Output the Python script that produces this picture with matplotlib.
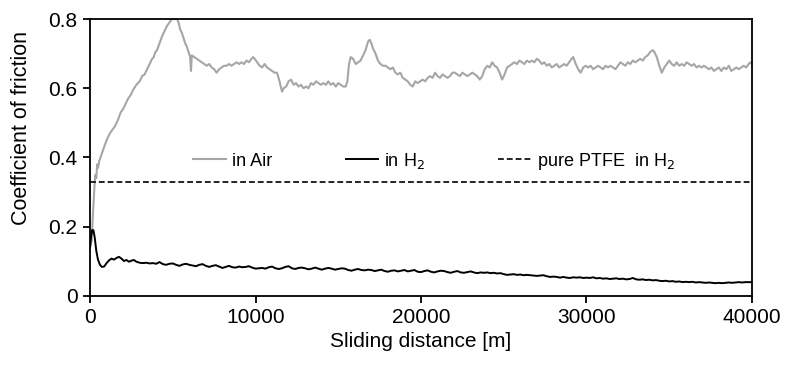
import numpy as np
import matplotlib.pyplot as plt

plt.rcParams['font.family'] = ['Liberation Sans', 'DejaVu Sans']

# coefficient of friction in air
air_x = [0, 100, 180, 260, 320, 380, 430, 480, 560, 700, 850, 1000, 1200, 1350, 1500, 1700, 1850,
         2000, 2150, 2300, 2450, 2600, 2800, 3000, 3150, 3300, 3450, 3600, 3750, 3850, 3950, 4050,
         4200, 4350, 4500, 4650, 4800, 4950, 5100, 5250, 5350, 5450, 5550, 5650, 5750, 5850, 5950,
         6050, 6100, 6150, 6300, 6450, 6600, 6750, 6900, 7050, 7200, 7350, 7500, 7650, 7800, 7950,
         8100, 8250, 8400, 8550, 8700, 8850, 9000, 9150, 9300, 9450, 9600, 9750, 9850, 9950, 10100,
         10250, 10400, 10550, 10700, 10850, 11000, 11150, 11300, 11450, 11600, 11700, 11850, 12000,
         12150, 12300, 12450, 12600, 12750, 12900, 13050, 13200, 13350, 13500, 13650, 13800, 13950,
         14100, 14250, 14400, 14550, 14700, 14850, 15000, 15150, 15300, 15450, 15550, 15650, 15750,
         15900, 16050, 16200, 16350, 16500, 16650, 16800, 16900, 17000, 17100, 17250, 17400, 17550,
         17700, 17850, 18000, 18150, 18300, 18450, 18600, 18750, 18900, 19050, 19200, 19350, 19500,
         19650, 19800, 19950, 20100, 20250, 20400, 20550, 20700, 20850, 21000, 21150, 21300, 21450,
         21600, 21750, 21900, 22050, 22200, 22350, 22500, 22650, 22800, 22950, 23100, 23250, 23400,
         23550, 23700, 23850, 24000, 24150, 24300, 24450, 24600, 24750, 24900, 25050, 25200, 25350,
         25500, 25650, 25800, 25950, 26100, 26250, 26400, 26550, 26700, 26850, 27000, 27150, 27300,
         27450, 27600, 27750, 27900, 28050, 28200, 28350, 28500, 28650, 28800, 28950, 29100, 29200,
         29350, 29500, 29650, 29800, 29950, 30100, 30250, 30400, 30550, 30700, 30850, 31000, 31150,
         31300, 31450, 31600, 31750, 31900, 32050, 32200, 32350, 32500, 32650, 32800, 32950, 33100,
         33250, 33400, 33550, 33700, 33850, 34000, 34100, 34250, 34400, 34550, 34700, 34850, 35000,
         35150, 35300, 35450, 35600, 35750, 35900, 36050, 36200, 36350, 36500, 36650, 36800, 36950,
         37100, 37250, 37400, 37550, 37700, 37850, 38000, 38150, 38300, 38450, 38600, 38750, 38900,
         39050, 39200, 39350, 39500, 39650, 39800, 39900, 40000]
air_y = [0.14, 0.16, 0.24, 0.31, 0.35, 0.34, 0.38, 0.37, 0.39, 0.41, 0.43, 0.45, 0.47, 0.48, 0.49, 0.51, 0.53,
         0.54, 0.555, 0.57, 0.58, 0.595, 0.61, 0.62, 0.635, 0.64, 0.655, 0.67, 0.685, 0.69, 0.705, 0.71,
         0.73, 0.75, 0.765, 0.78, 0.79, 0.80, 0.80, 0.80, 0.79, 0.77, 0.76, 0.745, 0.73, 0.72, 0.705,
         0.69, 0.65, 0.695, 0.69, 0.685, 0.68, 0.675, 0.67, 0.665, 0.67, 0.66, 0.655, 0.645, 0.655, 0.66,
         0.665, 0.665, 0.67, 0.665, 0.67, 0.675, 0.67, 0.675, 0.67, 0.68, 0.675, 0.685, 0.69, 0.685, 0.675,
         0.665, 0.66, 0.67, 0.66, 0.655, 0.65, 0.645, 0.645, 0.62, 0.59, 0.60, 0.605, 0.62,
         0.625, 0.61, 0.615, 0.605, 0.61, 0.60, 0.605, 0.60, 0.615, 0.61, 0.62, 0.615, 0.61,
         0.615, 0.61, 0.62, 0.61, 0.615, 0.605, 0.615, 0.61, 0.605, 0.605, 0.62, 0.67, 0.69,
         0.685, 0.67, 0.675, 0.68, 0.695, 0.71, 0.735, 0.74, 0.73, 0.715, 0.70, 0.68, 0.67,
         0.665, 0.665, 0.66, 0.655, 0.66, 0.645, 0.64, 0.645, 0.63, 0.625, 0.62, 0.61, 0.605,
         0.62, 0.615, 0.62, 0.625, 0.62, 0.63, 0.635, 0.63, 0.645, 0.635, 0.63, 0.64, 0.635,
         0.63, 0.635, 0.645, 0.645, 0.64, 0.635, 0.645, 0.64, 0.635, 0.64, 0.645, 0.64, 0.635,
         0.625, 0.635, 0.655, 0.665, 0.66, 0.675, 0.665, 0.66, 0.645, 0.625, 0.64, 0.66, 0.665,
         0.67, 0.675, 0.67, 0.68, 0.675, 0.67, 0.68, 0.675, 0.68, 0.675, 0.685, 0.68, 0.67,
         0.675, 0.665, 0.67, 0.66, 0.665, 0.67, 0.66, 0.665, 0.67, 0.665, 0.675, 0.685, 0.69,
         0.67, 0.655, 0.645, 0.66, 0.665, 0.66, 0.665, 0.655, 0.66, 0.665, 0.66, 0.655, 0.665,
         0.66, 0.665, 0.66, 0.655, 0.665, 0.675, 0.67, 0.665, 0.675, 0.67, 0.68, 0.675, 0.68,
         0.685, 0.68, 0.69, 0.695, 0.705, 0.71, 0.705, 0.69, 0.665, 0.645, 0.66, 0.67, 0.68,
         0.67, 0.665, 0.675, 0.665, 0.67, 0.665, 0.675, 0.67, 0.665, 0.67, 0.66, 0.665, 0.66,
         0.665, 0.66, 0.655, 0.66, 0.65, 0.655, 0.66, 0.65, 0.66, 0.655, 0.665, 0.65, 0.655,
         0.66, 0.655, 0.66, 0.665, 0.66, 0.67, 0.675, 0.67]

# coefficient of friction in hydrogen
h2_x = [0, 60, 120, 200, 280, 380, 480, 600, 720, 850, 1000, 1150, 1300, 1450, 1600, 1750, 1900,
        2050, 2200, 2350, 2500, 2650, 2800] + list(range(3000, 40000, 200)) + [40000]
h2_y = [0.14, 0.17, 0.19, 0.19, 0.17, 0.13, 0.105, 0.09, 0.084, 0.085, 0.095, 0.103, 0.108, 0.105, 0.11, 0.113, 0.108,
        0.101, 0.104, 0.099, 0.102, 0.104, 0.099,
        # 3000 .. 39800 step 200
        0.096, 0.095, 0.096, 0.094, 0.095, 0.093, 0.098, 0.092, 0.090, 0.093,
        0.094, 0.090, 0.087, 0.091, 0.093, 0.090, 0.088, 0.086, 0.090, 0.092,
        0.087, 0.084, 0.087, 0.089, 0.085, 0.081, 0.084, 0.087, 0.083, 0.082,
        0.085, 0.083, 0.084, 0.086, 0.082, 0.079, 0.080, 0.081, 0.079, 0.083,
        0.085, 0.080, 0.078, 0.080, 0.084, 0.086, 0.080, 0.078, 0.081, 0.082,
        0.080, 0.077, 0.079, 0.082, 0.079, 0.076, 0.079, 0.081, 0.079, 0.076,
        0.078, 0.080, 0.079, 0.075, 0.073, 0.076, 0.078, 0.075, 0.074, 0.076,
        0.075, 0.072, 0.074, 0.076, 0.072, 0.070, 0.073, 0.074, 0.071, 0.073,
        0.075, 0.071, 0.073, 0.075, 0.070, 0.069, 0.072, 0.074, 0.070, 0.068,
        0.071, 0.073, 0.072, 0.069, 0.067, 0.070, 0.072, 0.068, 0.067, 0.069,
        0.071, 0.068, 0.066, 0.068, 0.067, 0.068, 0.066, 0.067, 0.065, 0.066,
        0.063, 0.061, 0.062, 0.063, 0.061, 0.062, 0.060, 0.061, 0.060, 0.059,
        0.058, 0.059, 0.060, 0.057, 0.055, 0.056, 0.055, 0.053, 0.055, 0.053,
        0.052, 0.054, 0.053, 0.054, 0.052, 0.053, 0.052, 0.054, 0.051, 0.052,
        0.050, 0.051, 0.049, 0.050, 0.051, 0.049, 0.050, 0.048, 0.049, 0.052,
        0.048, 0.047, 0.048, 0.046, 0.047, 0.045, 0.046, 0.044, 0.043, 0.044,
        0.042, 0.043, 0.041, 0.042, 0.040, 0.041, 0.040, 0.041, 0.039, 0.040,
        0.039, 0.038, 0.039, 0.038, 0.037, 0.038, 0.037, 0.038, 0.039, 0.038,
        0.039, 0.040, 0.039, 0.040, 0.040,
        0.040]

ptfe_h2 = 0.33

x_ticks = [0, 10000, 20000, 30000, 40000]
y_ticks = [0, 0.2, 0.4, 0.6, 0.8]
y_labels = ['0', '0.2', '0.4', '0.6', '0.8']

fig = plt.figure(figsize=(7.87, 3.67), dpi=100)
ax = fig.add_axes([0.1144, 0.1935, 0.8411, 0.7547])

ax.plot(air_x, air_y, color='#a6a6a6', lw=1.5, label='in Air')
ax.plot(h2_x, h2_y, color='black', lw=1.4, label='in H$_2$')
ax.axhline(ptfe_h2, color='black', lw=1.2, linestyle=(0, (3.5, 1.8)), label='pure PTFE  in H$_2$')

ax.set_xlim(0, 40000)
ax.set_ylim(0, 0.8)
ax.set_xticks(x_ticks)
ax.set_xticklabels([str(t) for t in x_ticks])
ax.set_yticks(y_ticks)
ax.set_yticklabels(y_labels)
ax.tick_params(direction='out', length=5, width=1.3, labelsize=15, pad=4)
for s in ax.spines.values():
    s.set_linewidth(1.3)

ax.set_xlabel('Sliding distance [m]', fontsize=15, labelpad=3)
ax.set_ylabel('Coefficient of friction', fontsize=15.5)
ax.yaxis.set_label_coords(-0.088, 0.606)

ax.legend(loc='center', bbox_to_anchor=(0.52, 0.487), ncol=3, frameon=False, fontsize=13,
          handlelength=1.8, handletextpad=0.35, columnspacing=4.05)

plt.savefig('out.png', dpi=100)
